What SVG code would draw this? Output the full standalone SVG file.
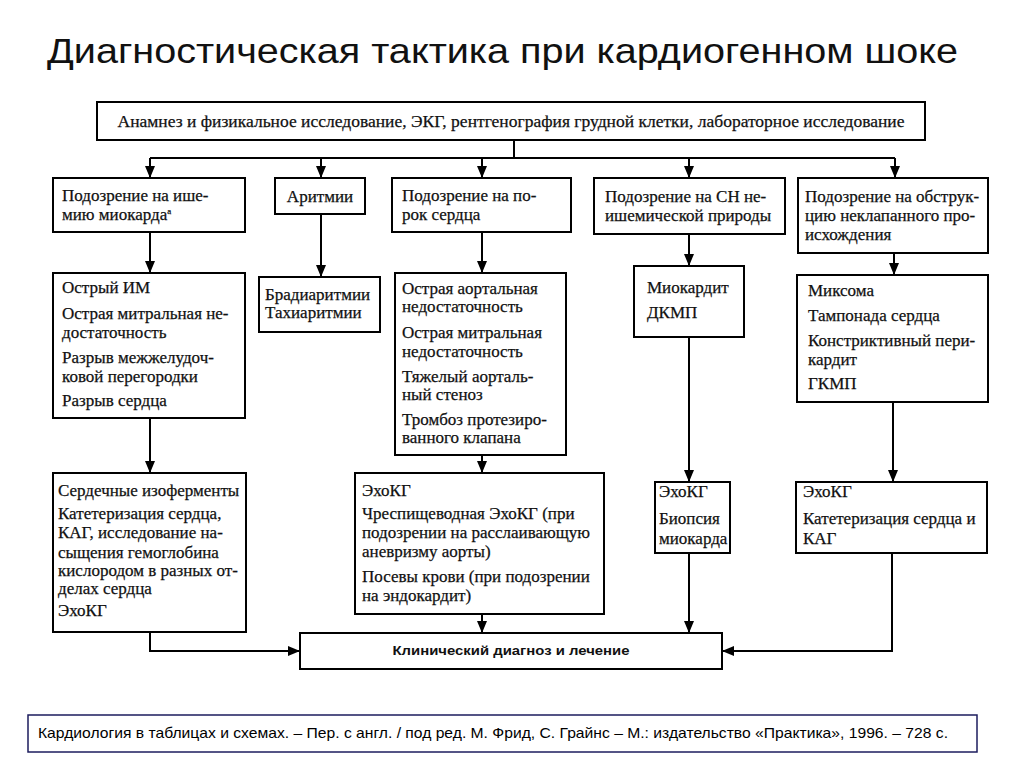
<svg xmlns="http://www.w3.org/2000/svg" width="1024" height="768" viewBox="0 0 1024 768">
<defs>
<marker id="ah" viewBox="0 0 12 10" refX="12" refY="5" markerWidth="12" markerHeight="10" markerUnits="userSpaceOnUse" orient="auto">
<path d="M0,0 L12,5 L0,10 z" fill="#000"/>
</marker>
<style>
.box{fill:#fff;stroke:#000;stroke-width:2}
.t{font-family:"Liberation Serif","Times New Roman",serif;font-size:17px;fill:#111;stroke:#111;stroke-width:0.25}
.c{stroke:#000;stroke-width:2;fill:none}
.a{stroke:#000;stroke-width:2;fill:none;marker-end:url(#ah)}
</style>
</defs>
<rect width="1024" height="768" fill="#fff"/>
<text x="47" y="63" font-family="Liberation Sans, Arial, sans-serif" font-size="35" fill="#111" textLength="911" lengthAdjust="spacingAndGlyphs">Диагностическая тактика при кардиогенном шоке</text>

<g id="connectors">
<path class="c" d="M514,140 V158 M150,158 H895"/>
<path class="a" d="M150,158 V178"/>
<path class="a" d="M321,158 V178"/>
<path class="a" d="M482,158 V178"/>
<path class="a" d="M689,158 V178"/>
<path class="a" d="M895,158 V178"/>
<path class="a" d="M150,232 V273"/>
<path class="a" d="M321,214 V277"/>
<path class="a" d="M482,232 V273"/>
<path class="a" d="M689,234 V266"/>
<path class="a" d="M894,253 V275"/>
<path class="a" d="M150,418 V473"/>
<path class="a" d="M482,455 V473"/>
<path class="a" d="M689,337 V482"/>
<path class="a" d="M893,402 V482"/>
<path class="a" d="M150,632 V651 H300"/>
<path class="a" d="M482,614 V633"/>
<path class="a" d="M689,553 V633"/>
<path class="a" d="M892,553 V651 H722"/>
</g>

<g id="n-top">
<rect class="box" x="97" y="102" width="828" height="38"/>
<text class="t" x="511" y="127" text-anchor="middle" font-size="15.5" textLength="787" lengthAdjust="spacingAndGlyphs">Анамнез и физикальное исследование, ЭКГ, рентгенография грудной клетки, лабораторное исследование</text>
</g>

<g id="n-ischemia">
<rect class="box" x="53" y="178" width="192" height="54"/>
<text class="t" x="62" y="201">Подозрение на ише-</text>
<text class="t" x="62" y="220">мию миокарда<tspan font-size="9" dy="-6">а</tspan></text>
</g>
<g id="n-arrhythmia">
<rect class="box" x="275" y="178" width="90" height="36"/>
<text class="t" x="320" y="202" text-anchor="middle">Аритмии</text>
</g>
<g id="n-valve">
<rect class="box" x="392" y="178" width="179" height="54"/>
<text class="t" x="402" y="201">Подозрение на по-</text>
<text class="t" x="402" y="220">рок сердца</text>
</g>
<g id="n-hf">
<rect class="box" x="594" y="178" width="191" height="56"/>
<text class="t" x="605" y="202">Подозрение на СН не-</text>
<text class="t" x="605" y="221">ишемической природы</text>
</g>
<g id="n-obstr">
<rect class="box" x="798" y="178" width="190" height="75"/>
<text class="t" x="805" y="202">Подозрение на обструк-</text>
<text class="t" x="805" y="221">цию неклапанного про-</text>
<text class="t" x="805" y="240">исхождения</text>
</g>

<g id="n-mi">
<rect class="box" x="53" y="273" width="192" height="145"/>
<text class="t" x="62" y="293">Острый ИМ</text>
<text class="t" x="62" y="319">Острая митральная не-</text>
<text class="t" x="62" y="338">достаточность</text>
<text class="t" x="62" y="363">Разрыв межжелудоч-</text>
<text class="t" x="62" y="382">ковой перегородки</text>
<text class="t" x="62" y="406">Разрыв сердца</text>
</g>
<g id="n-brady">
<rect class="box" x="259" y="277" width="121" height="55"/>
<text class="t" x="265" y="300">Брадиаритмии</text>
<text class="t" x="265" y="318">Тахиаритмии</text>
</g>
<g id="n-valvelist">
<rect class="box" x="395" y="273" width="171" height="182"/>
<text class="t" x="402" y="294">Острая аортальная</text>
<text class="t" x="402" y="312">недостаточность</text>
<text class="t" x="402" y="338">Острая митральная</text>
<text class="t" x="402" y="357">недостаточность</text>
<text class="t" x="402" y="382">Тяжелый аорталь-</text>
<text class="t" x="402" y="400">ный стеноз</text>
<text class="t" x="402" y="425">Тромбоз протезиро-</text>
<text class="t" x="402" y="443">ванного клапана</text>
</g>
<g id="n-myo">
<rect class="box" x="634" y="266" width="110" height="71"/>
<text class="t" x="647" y="293">Миокардит</text>
<text class="t" x="647" y="318">ДКМП</text>
</g>
<g id="n-obstrlist">
<rect class="box" x="797" y="275" width="191" height="127"/>
<text class="t" x="808" y="296">Миксома</text>
<text class="t" x="808" y="321">Тампонада сердца</text>
<text class="t" x="808" y="346">Констриктивный пери-</text>
<text class="t" x="808" y="365">кардит</text>
<text class="t" x="808" y="389">ГКМП</text>
</g>

<g id="n-enz">
<rect class="box" x="53" y="473" width="193" height="159"/>
<text class="t" x="58" y="496">Сердечные изоферменты</text>
<text class="t" x="58" y="519">Катетеризация сердца,</text>
<text class="t" x="58" y="538">КАГ, исследование на-</text>
<text class="t" x="58" y="558">сыщения гемоглобина</text>
<text class="t" x="58" y="576">кислородом в разных от-</text>
<text class="t" x="58" y="594">делах сердца</text>
<text class="t" x="58" y="616">ЭхоКГ</text>
</g>
<g id="n-echo1">
<rect class="box" x="355" y="473" width="249" height="141"/>
<text class="t" x="362" y="496">ЭхоКГ</text>
<text class="t" x="362" y="519">Чреспищеводная ЭхоКГ (при</text>
<text class="t" x="362" y="538">подозрении на расслаивающую</text>
<text class="t" x="362" y="557">аневризму аорты)</text>
<text class="t" x="362" y="582">Посевы крови (при подозрении</text>
<text class="t" x="362" y="601">на эндокардит)</text>
</g>
<g id="n-echo2">
<rect class="box" x="655" y="482" width="75" height="71"/>
<text class="t" x="659" y="497">ЭхоКГ</text>
<text class="t" x="659" y="524">Биопсия</text>
<text class="t" x="659" y="544">миокарда</text>
</g>
<g id="n-echo3">
<rect class="box" x="796" y="482" width="191" height="71"/>
<text class="t" x="803" y="497">ЭхоКГ</text>
<text class="t" x="803" y="524">Катетеризация сердца и</text>
<text class="t" x="803" y="544">КАГ</text>
</g>

<g id="n-clinical">
<rect class="box" x="300" y="633" width="422" height="36"/>
<text x="511" y="655" text-anchor="middle" font-family="Liberation Sans, Arial, sans-serif" font-size="12.5" font-weight="bold" fill="#111" textLength="237" lengthAdjust="spacingAndGlyphs">Клинический диагноз и лечение</text>
</g>

<g id="citation">
<rect x="28" y="715" width="949" height="37" fill="#fff" stroke="#1c1c5e" stroke-width="1.5"/>
<text x="38" y="738" font-family="Liberation Sans, Arial, sans-serif" font-size="14.5" fill="#000" textLength="910" lengthAdjust="spacingAndGlyphs">Кардиология в таблицах и схемах. – Пер. с англ. / под ред. М. Фрид, С. Грайнс – М.: издательство «Практика», 1996. – 728 с.</text>
</g>
</svg>
